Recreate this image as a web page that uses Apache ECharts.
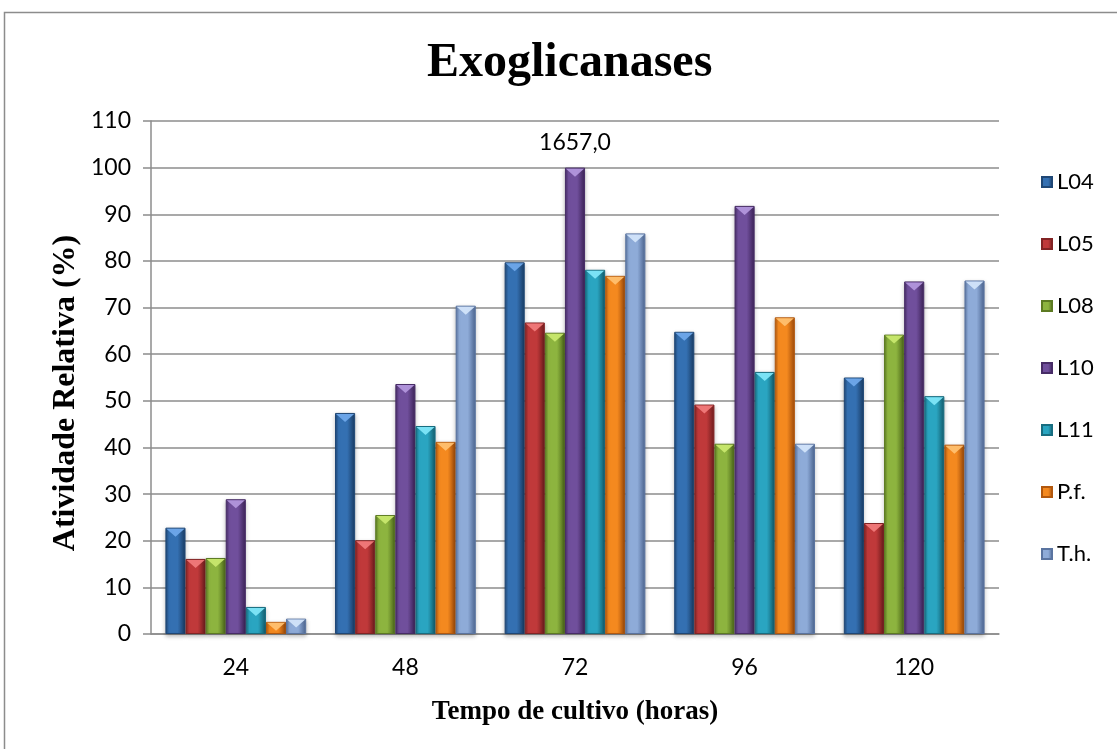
<!DOCTYPE html>
<html>
<head>
<meta charset="utf-8">
<title>Exoglicanases</title>
<script src="https://cdn.jsdelivr.net/npm/echarts@6/dist/echarts.min.js"></script>
<style>
  html, body { margin: 0; padding: 0; background: #ffffff; }
  #chart { width: 1117px; height: 749px; }
</style>
</head>
<body>
<div id="chart"></div>
<script>
// Relative exoglucanase activity (%) per strain over culture time
const categories = ['24', '48', '72', '96', '120'];
const seriesNames = ['L04', 'L05', 'L08', 'L10', 'L11', 'P.f.', 'T.h.'];
const L04 = [22.8, 47.4, 79.7, 64.8, 55.0];
const L05 = [16.1, 20.1, 66.8, 49.2, 23.8];
const L08 = [16.3, 25.5, 64.6, 40.8, 64.2];
const L10 = [28.9, 53.6, 100, 91.8, 75.6];
const L11 = [5.8, 44.6, 78.1, 56.2, 51.0];
const Pf  = [2.6, 41.2, 76.8, 67.9, 40.6];
const Th  = [3.3, 70.4, 85.9, 40.8, 75.8];
const yTicks = { min: 0, max: 110, interval: 10 };
// absolute activity of the 100 % reference (L10 at 72 h)
const referenceIndex = 2;
const referenceText = '1657,0';
const yTitle = 'Atividade Relativa (%)';

const seriesData = [L04, L05, L08, L10, L11, Pf, Th];

// base / dark edge / light bevel colours for each strain
const palette = [
  { base: '#3470b2', dark: '#1f4775', light: '#6fa8ea' },
  { base: '#c0393a', dark: '#822324', light: '#f07a7a' },
  { base: '#8db43f', dark: '#5c7a22', light: '#c8e86e' },
  { base: '#704f9c', dark: '#472c66', light: '#b296dc' },
  { base: '#2aa5c1', dark: '#186d80', light: '#7ee6f8' },
  { base: '#f4891f', dark: '#b2580e', light: '#ffc070' },
  { base: '#8eabd8', dark: '#5a74a0', light: '#d2e4fa' }
];

function bodyGradient(c) {
  return new echarts.graphic.LinearGradient(0, 0, 1, 0, [
    { offset: 0, color: c.dark },
    { offset: 0.18, color: c.base },
    { offset: 0.6, color: c.base },
    { offset: 0.92, color: c.dark },
    { offset: 1, color: c.dark }
  ]);
}

const grid = { left: 151, top: 121, width: 848, height: 513 };
const catGap = '17%';

const series = [];
seriesNames.forEach((name, i) => {
  const c = palette[i];
  const data = seriesData[i].map((v, k) => {
    if (i === 3 && k === referenceIndex) {
      return {
        value: v,
        label: {
          show: true,
          position: 'top',
          distance: 14,
          formatter: referenceText,
          fontFamily: 'Lato',
          fontSize: 23,
          color: '#000'
        }
      };
    }
    return v;
  });
  series.push({
    name: name,
    type: 'bar',
    data: data,
    barGap: '0%',
    barCategoryGap: catGap,
    itemStyle: {
      color: bodyGradient(c),
      borderColor: c.dark,
      borderWidth: 1,
      shadowColor: 'rgba(0,0,0,0.25)',
      shadowBlur: 4,
      shadowOffsetY: 2
    },
    emphasis: { disabled: true },
    z: 2
  });
});

// bevelled top caps, one per strain, laid out like the bars
seriesNames.forEach((name, i) => {
  const c = palette[i];
  series.push({
    name: name,
    type: 'pictorialBar',
    data: seriesData[i],
    barGap: '0%',
    barCategoryGap: catGap,
    symbol: 'path://M0,0 L20,0 L10,8 Z',
    symbolSize: ['90%', 8],
    symbolPosition: 'end',
    symbolOffset: [0, 1],
    itemStyle: { color: c.light, opacity: 0.95 },
    emphasis: { disabled: true },
    silent: true,
    z: 3
  });
});

const chart = echarts.init(document.getElementById('chart'), null, { renderer: 'canvas' });
chart.setOption({
  animation: false,
  backgroundColor: '#ffffff',
  title: {
    text: 'Exoglicanases',
    left: 427,
    top: 40,
    padding: 0,
    textStyle: {
      fontFamily: 'Liberation Serif',
      fontWeight: 'bold',
      fontSize: 48,
      color: '#000'
    }
  },
  graphic: [{
    type: 'rect',
    shape: { x: 4.5, y: 12.5, width: 1200, height: 800 },
    style: { fill: 'none', stroke: '#8c8c8c', lineWidth: 1.5 },
    silent: true
  }, {
    type: 'text',
    x: 66,
    y: 393,
    rotation: Math.PI / 2,
    style: {
      text: yTitle,
      fontFamily: 'Liberation Serif',
      fontWeight: 'bold',
      fontSize: 32,
      fill: '#000',
      textAlign: 'center',
      textVerticalAlign: 'middle'
    },
    silent: true
  }],
  legend: {
    orient: 'vertical',
    left: 1041,
    top: 171,
    padding: 0,
    itemWidth: 10,
    itemHeight: 10,
    itemGap: 40,
    icon: 'rect',
    data: seriesNames,
    textStyle: { fontFamily: 'Lato', fontSize: 22, color: '#000' }
  },
  grid: grid,
  xAxis: {
    type: 'category',
    data: categories,
    name: 'Tempo de cultivo (horas)',
    nameLocation: 'middle',
    nameGap: 65,
    nameTextStyle: { fontFamily: 'Liberation Serif', fontWeight: 'bold', fontSize: 27, color: '#000' },
    axisLine: { lineStyle: { color: '#8c8c8c', width: 1.5 } },
    axisTick: { show: false },
    axisLabel: { fontFamily: 'Lato', fontSize: 23, color: '#000', margin: 22 }
  },
  yAxis: {
    type: 'value',
    min: yTicks.min,
    max: yTicks.max,
    interval: yTicks.interval,
    axisLine: { show: true, lineStyle: { color: '#8c8c8c', width: 1.5 } },
    axisTick: { show: true, inside: false, length: 8, lineStyle: { color: '#8c8c8c', width: 1.5 } },
    splitLine: { show: true, lineStyle: { color: '#8c8c8c', width: 1.5 } },
    axisLabel: { fontFamily: 'Lato', fontSize: 23, color: '#000', margin: 20 }
  },
  series: series
});
</script>
</body>
</html>
